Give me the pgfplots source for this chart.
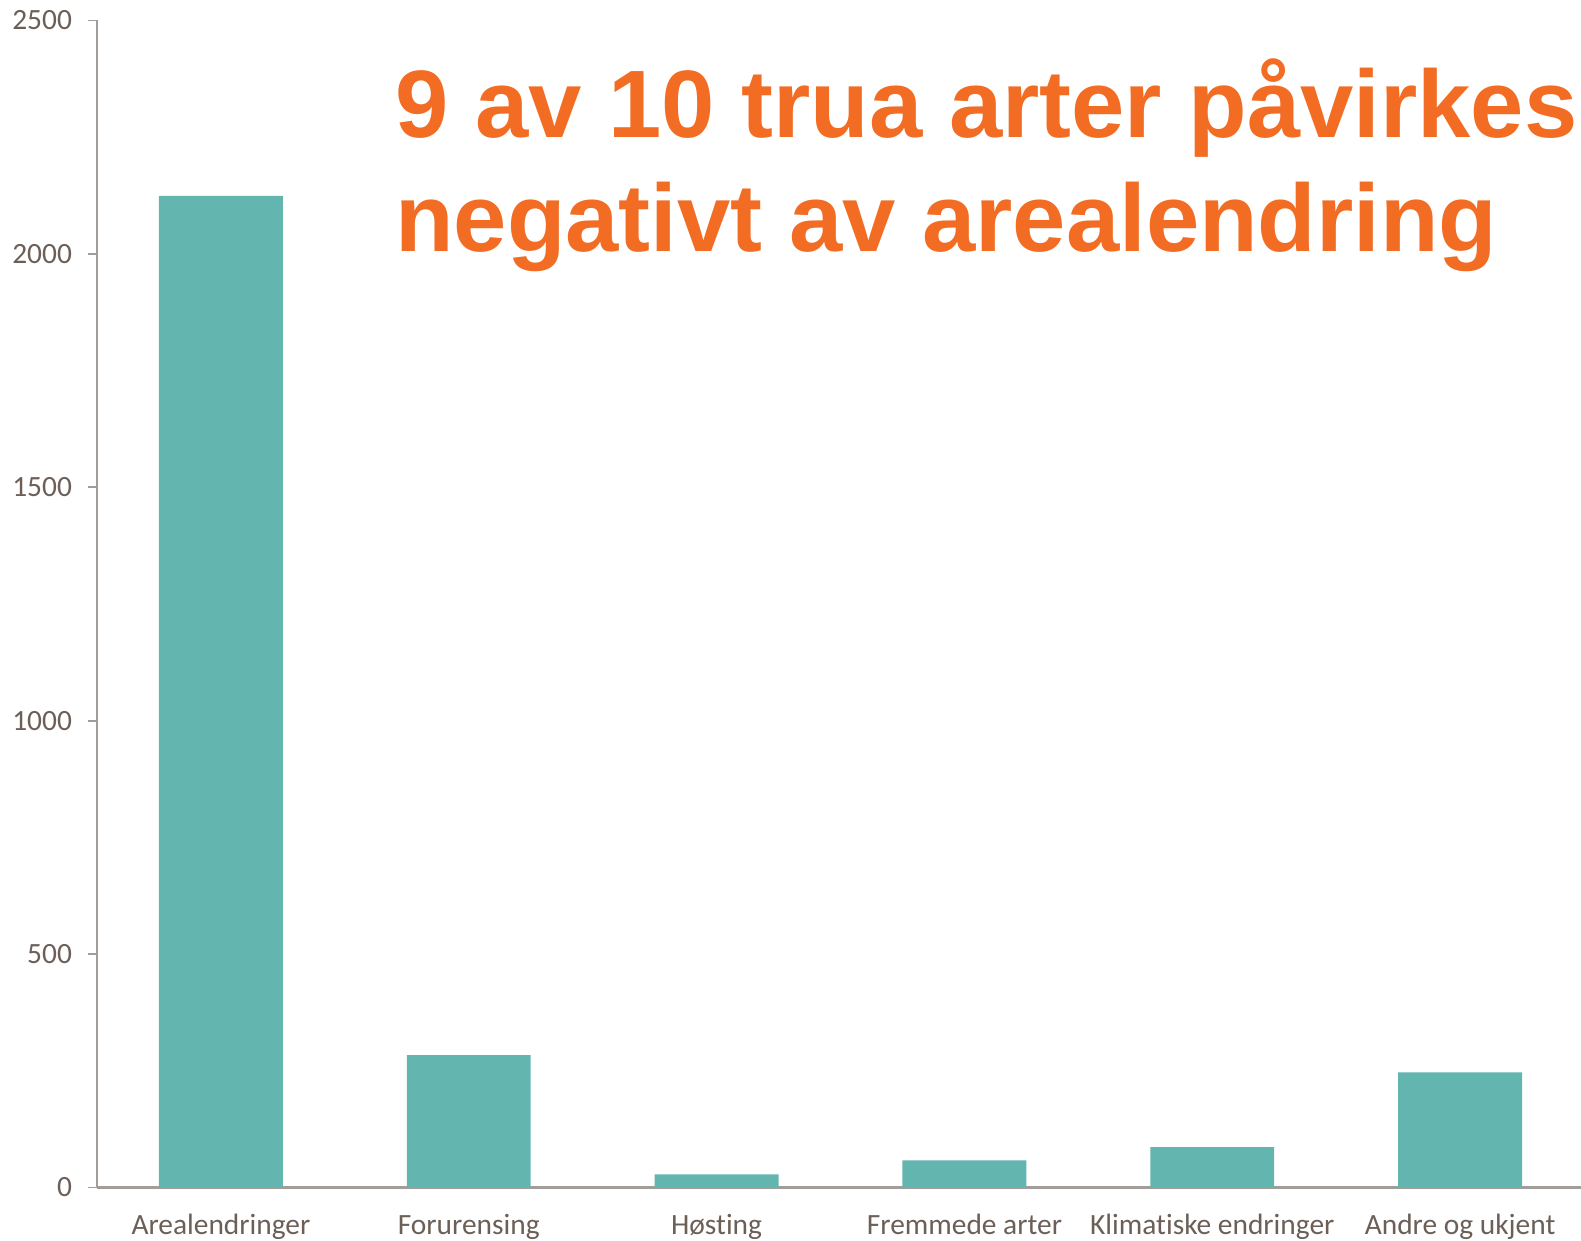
\documentclass[border=0pt]{standalone}
\usepackage{pgfplots}
\pgfplotsset{compat=1.18}
\usepackage{fontspec}
\setmainfont{Carlito}[Ligatures=NoCommon, RawFeature={-liga;-dlig;-clig}]
\newfontfamily\titlefont{Liberation Sans}
\definecolor{barteal}{HTML}{62B6AF}
\definecolor{titleorange}{HTML}{F26C23}
\definecolor{labelgray}{HTML}{6B5F57}
\definecolor{axisgray}{HTML}{A39D99}
\begin{document}
\begin{tikzpicture}
\begin{axis}[
  name=ax,
  scale only axis,
  width=743.5pt, height=583.5pt,
  xmin=-0.5, xmax=5.5,
  ymin=0, ymax=2500,
  ytick={0,500,1000,1500,2000,2500},
  xtick={0,1,2,3,4,5},
  xticklabels={Arealendringer,Forurensing,Høsting,Fremmede arter,Klimatiske endringer,Andre og ukjent},
  axis x line=bottom, axis y line=left,
  axis line style={-, color=axisgray, line width=0.9pt},
  x axis line style={line width=1.1pt},
  tick align=outside,
  major tick style={color=axisgray, line width=0.9pt},
  x tick style={draw=none},
  major tick length=4.5pt,
  ticklabel style={font=\fontsize{14.7}{17}\selectfont, text=labelgray},
  yticklabel style={anchor=east, xshift=-4.5pt},
  xticklabel style={anchor=base, yshift=-19pt},
  /pgf/number format/assume math mode=true,
  /pgf/number format/1000 sep={},
  ybar, bar width=0.5,
  clip=false,
]
\addplot[fill=barteal, draw=none] coordinates {
  (0,2124) (1,283.5) (2,28) (3,58) (4,86.5) (5,246.5)
};
\end{axis}
\node[anchor=base west, text=titleorange, inner sep=0pt, font=\titlefont\bfseries\fontsize{47.9}{56}\selectfont]
  at ([xshift=149pt, yshift=-58.75pt]ax.north west) {9 av 10 trua arter påvirkes};
\node[anchor=base west, text=titleorange, inner sep=0pt, font=\titlefont\bfseries\fontsize{47.9}{56}\selectfont]
  at ([xshift=149pt, yshift=-115.6pt]ax.north west) {negativt av arealendring};
\pgfresetboundingbox
\path[use as bounding box] ([xshift=-48.5pt, yshift=-26.3pt]ax.south west) rectangle ([xshift=742pt, yshift=10.25pt]ax.north west);
\end{tikzpicture}
\end{document}
